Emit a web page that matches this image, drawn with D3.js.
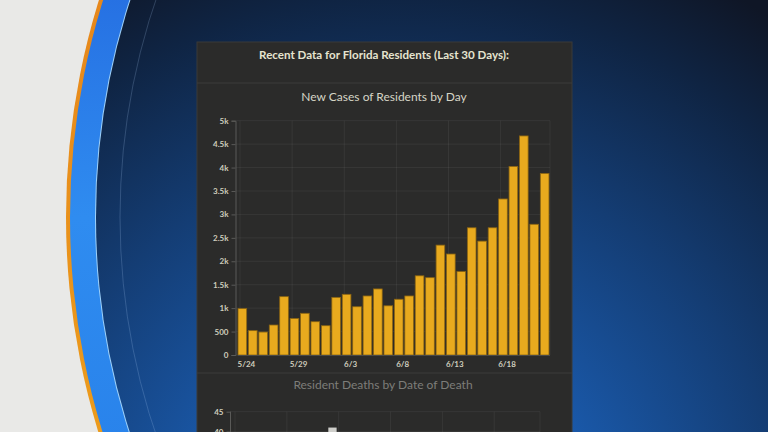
<!DOCTYPE html>
<html>
<head>
<meta charset="utf-8">
<script src="https://cdn.jsdelivr.net/npm/d3@7"></script>
<style>
  html, body { margin: 0; padding: 0; background: #e9e9e7; overflow: hidden; }
</style>
</head>
<body>
<div id="chart"></div>
<script>
// last 30 days, one bar per day
var days = ["5/24","5/25","5/26","5/27","5/28","5/29","5/30","5/31","6/1","6/2",
            "6/3","6/4","6/5","6/6","6/7","6/8","6/9","6/10","6/11","6/12",
            "6/13","6/14","6/15","6/16","6/17","6/18","6/19","6/20","6/21","6/22"];
var newCases = [990, 520, 490, 640, 1245, 780, 890, 710, 625, 1230,
                1295, 1030, 1260, 1410, 1050, 1190, 1260, 1690, 1650, 2345,
                2155, 1780, 2715, 2430, 2715, 3330, 4025, 4675, 2790, 3875];
var caseTicks = [0, 500, 1000, 1500, 2000, 2500, 3000, 3500, 4000, 4500, 5000];
var caseTickLabels = ["0","500","1k","1.5k","2k","2.5k","3k","3.5k","4k","4.5k","5k"];
var labelDays = ["5/24","5/29","6/3","6/8","6/13","6/18"];

// deaths chart is cut off by the frame, only the top is visible
var deaths = [null, null, null, null, null, null, null, null, null, 41,
              null, null, null, null, null, null, null, null, null, null,
              null, null, null, null, null, null, null, null, null, null];
var deathTicks = [45, 40];

var W = 768, H = 432;
var svg = d3.select("#chart").append("svg")
  .attr("width", W).attr("height", H)
  .style("display", "block");

var defs = svg.append("defs");
var bg = defs.append("radialGradient").attr("id", "bgGrad")
  .attr("gradientUnits", "userSpaceOnUse")
  .attr("cx", 400).attr("cy", 540).attr("r", 640);
bg.append("stop").attr("offset", "0%").attr("stop-color", "#2174d0");
bg.append("stop").attr("offset", "30%").attr("stop-color", "#1a5aac");
bg.append("stop").attr("offset", "60%").attr("stop-color", "#143d74");
bg.append("stop").attr("offset", "85%").attr("stop-color", "#0f2443");
bg.append("stop").attr("offset", "100%").attr("stop-color", "#0f1626");

var ringGrad = defs.append("linearGradient").attr("id", "ringGrad")
  .attr("x1", 0).attr("y1", 0).attr("x2", 0).attr("y2", 1);
ringGrad.append("stop").attr("offset", "0%").attr("stop-color", "#1232c4");
ringGrad.append("stop").attr("offset", "50%").attr("stop-color", "#2f8cf0");
ringGrad.append("stop").attr("offset", "100%").attr("stop-color", "#1c6fe0");

var orangeGrad = defs.append("linearGradient").attr("id", "orangeGrad")
  .attr("x1", 0).attr("y1", 0).attr("x2", 0).attr("y2", 1);
orangeGrad.append("stop").attr("offset", "0%").attr("stop-color", "#e0701a");
orangeGrad.append("stop").attr("offset", "100%").attr("stop-color", "#f2b21c");

// background swoosh
var cx = 797, cy = 217;
svg.append("rect").attr("width", W).attr("height", H).attr("fill", "#e9e9e7");
svg.append("circle").attr("cx", cx).attr("cy", cy).attr("r", 731).attr("fill", "url(#orangeGrad)");
svg.append("circle").attr("cx", cx).attr("cy", cy).attr("r", 727).attr("fill", "url(#ringGrad)");
svg.append("circle").attr("cx", cx).attr("cy", cy).attr("r", 702).attr("fill", "#9fd2fa");
svg.append("circle").attr("cx", cx).attr("cy", cy).attr("r", 701).attr("fill", "url(#bgGrad)");
svg.append("circle").attr("cx", cx).attr("cy", cy).attr("r", 677)
  .attr("fill", "none").attr("stroke", "rgba(170,200,240,0.22)").attr("stroke-width", 1);

// dark panel
var panel = svg.append("g");
panel.append("rect").attr("x", 197).attr("y", 42).attr("width", 375).attr("height", 400)
  .attr("fill", "#2b2b2a").attr("stroke", "#3a3a39").attr("stroke-width", 1);
panel.append("line").attr("x1", 197).attr("x2", 572).attr("y1", 83).attr("y2", 83)
  .attr("stroke", "#3c3c3b");
panel.append("line").attr("x1", 197).attr("x2", 572).attr("y1", 373).attr("y2", 373)
  .attr("stroke", "#3c3c3b");

panel.append("text").attr("x", 384).attr("y", 59).attr("text-anchor", "middle")
  .style("font-family", "Lato").style("font-weight", "bold").style("font-size", "11.6px")
  .attr("fill", "#e6e4cf").text("Recent Data for Florida Residents (Last 30 Days):");
panel.append("text").attr("x", 384).attr("y", 101).attr("text-anchor", "middle")
  .style("font-family", "Lato").style("font-size", "12px")
  .attr("fill", "#d6d5c6").text("New Cases of Residents by Day");

// cases chart
var x = d3.scaleBand().domain(days).range([237.5, 549.5]).paddingInner(0.17).paddingOuter(0.05);
var y = d3.scaleLinear().domain([0, 5000]).range([355, 120.7]);
var grid = svg.append("g");
grid.selectAll(".hg").data(caseTicks).enter().append("line")
  .attr("x1", 236).attr("x2", 550)
  .attr("y1", function(d){ return y(d); }).attr("y2", function(d){ return y(d); })
  .attr("stroke", "rgba(255,255,255,0.06)");
grid.selectAll(".vg").data(labelDays).enter().append("line")
  .attr("x1", function(d){ return x(d) + 2; }).attr("x2", function(d){ return x(d) + 2; })
  .attr("y1", y(5000)).attr("y2", y(0))
  .attr("stroke", "rgba(255,255,255,0.06)");
grid.append("line").attr("x1", 550).attr("x2", 550).attr("y1", y(5000)).attr("y2", y(0))
  .attr("stroke", "rgba(255,255,255,0.06)");

var yAxis = svg.append("g").attr("transform", "translate(235.5,0)")
  .call(d3.axisLeft(y).tickValues(caseTicks).tickSize(4).tickPadding(3)
    .tickFormat(function(d, i){ return caseTickLabels[i]; }));
yAxis.select(".domain").attr("stroke", "#5a5a58");
yAxis.selectAll(".tick line").attr("stroke", "#5a5a58");
yAxis.selectAll(".tick text").attr("fill", "#cfcdbd")
  .style("font-family", "Lato").style("font-weight", "bold").style("font-size", "8px");

svg.append("g").selectAll("rect").data(newCases).enter().append("rect")
  .attr("x", function(d, i){ return x(days[i]); })
  .attr("y", function(d){ return y(d); })
  .attr("width", x.bandwidth())
  .attr("height", function(d){ return y(0) - y(d); })
  .attr("fill", "#e8aa1e").attr("stroke", "#8a6412").attr("stroke-width", 0.8);

var xAxis = svg.append("g").attr("transform", "translate(0," + y(0) + ")")
  .call(d3.axisBottom(x).tickValues(labelDays).tickSize(0).tickPadding(6));
xAxis.select(".domain").attr("stroke", "#4a4a48");
xAxis.selectAll(".tick text").attr("fill", "#cfcdbd").attr("dx", 4)
  .style("font-family", "Lato").style("font-weight", "bold").style("font-size", "8px");

// deaths chart (top part only)
panel.append("text").attr("x", 383).attr("y", 389).attr("text-anchor", "middle")
  .style("font-family", "Lato").style("font-size", "12px")
  .attr("fill", "#7d7d79").text("Resident Deaths by Date of Death");

var x2 = d3.scaleBand().domain(days).range([231, 540]).paddingInner(0.2);
var y2 = d3.scaleLinear().domain([0, 45]).range([590, 411.7]);
var grid2 = svg.append("g");
grid2.selectAll(".hg").data(deathTicks).enter().append("line")
  .attr("x1", 230).attr("x2", 540)
  .attr("y1", function(d){ return y2(d); }).attr("y2", function(d){ return y2(d); })
  .attr("stroke", "rgba(255,255,255,0.06)");
grid2.selectAll(".vg").data(labelDays).enter().append("line")
  .attr("x1", function(d){ return x2(d) + 4; }).attr("x2", function(d){ return x2(d) + 4; })
  .attr("y1", y2(45)).attr("y2", H)
  .attr("stroke", "rgba(255,255,255,0.06)");
grid2.append("line").attr("x1", 540).attr("x2", 540).attr("y1", y2(45)).attr("y2", H)
  .attr("stroke", "rgba(255,255,255,0.06)");

var yAxis2 = svg.append("g").attr("transform", "translate(230.5,0)")
  .call(d3.axisLeft(y2).tickValues(deathTicks).tickSize(4).tickPadding(3));
yAxis2.select(".domain").remove();
yAxis2.append("line").attr("x1", 0).attr("x2", 0).attr("y1", y2(45)).attr("y2", H)
  .attr("stroke", "#5a5a58");
yAxis2.selectAll(".tick line").attr("stroke", "#5a5a58");
yAxis2.selectAll(".tick text").attr("fill", "#cfcdbd")
  .style("font-family", "Lato").style("font-weight", "bold").style("font-size", "8px");

svg.append("g").selectAll("rect")
  .data(deaths.map(function(d, i){ return {day: days[i], v: d}; })
    .filter(function(d){ return d.v != null; }))
  .enter().append("rect")
  .attr("x", function(d){ return x2(d.day) + 4; })
  .attr("y", function(d){ return y2(d.v); })
  .attr("width", x2.bandwidth())
  .attr("height", function(d){ return y2(0) - y2(d.v); })
  .attr("fill", "#cfcfcb");
</script>
</body>
</html>
